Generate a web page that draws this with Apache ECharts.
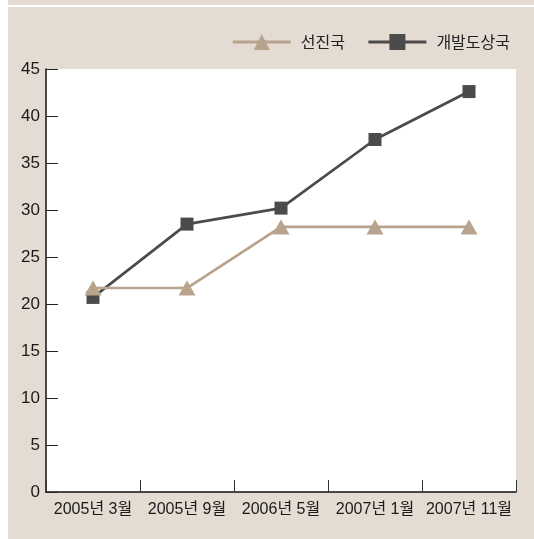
<!DOCTYPE html>
<html>
<head>
<meta charset="utf-8">
<script src="https://cdn.jsdelivr.net/npm/echarts@6/dist/echarts.min.js"></script>
<style>
html,body{margin:0;padding:0;background:#ffffff;}
#bg{position:absolute;left:8px;top:0;width:526px;height:539px;background:#e4dbd2;}
#strip{position:absolute;left:8px;top:5px;width:526px;height:2px;background:#ffffff;}
#chart{position:absolute;left:0;top:0;width:534px;height:539px;}
</style>
</head>
<body>
<div id="bg"></div>
<div id="strip"></div>
<div id="chart"></div>
<script>
const categories = ['2005년 3월', '2005년 9월', '2006년 5월', '2007년 1월', '2007년 11월'];
const advanced = [21.7, 21.7, 28.2, 28.2, 28.2];
const developing = [20.7, 28.5, 30.2, 37.5, 42.6];
const seriesNames = ['선진국', '개발도상국'];
const yTicks = { min: 0, max: 45, interval: 5 };

const font = '"Liberation Sans", Arial, "Noto Sans CJK KR", sans-serif';
const chart = echarts.init(document.getElementById('chart'), null, { renderer: 'canvas' });
chart.setOption({
  backgroundColor: 'transparent',
  animation: false,
  legend: {
    data: seriesNames,
    right: 19,
    top: 29,
    itemWidth: 58,
    itemHeight: 20,
    itemGap: 22,
    lineStyle: { width: 3 },
    textStyle: { fontSize: 16, color: '#222', fontFamily: '"Noto Sans CJK KR", sans-serif', padding: [0, 0, 0, 5] }
  },
  grid: {
    left: 46, right: 18, top: 69, bottom: 47,
    show: true, backgroundColor: '#ffffff', borderWidth: 0
  },
  xAxis: {
    type: 'category',
    data: categories,
    boundaryGap: true,
    axisLine: { lineStyle: { color: '#111', width: 1.5 } },
    axisTick: { show: true, inside: true, length: 12, lineStyle: { color: '#333', width: 1 } },
    axisLabel: { fontSize: 16, color: '#1a1a1a', margin: 10, fontFamily: font, interval: 0 },
    splitLine: { show: false }
  },
  yAxis: {
    type: 'value',
    min: yTicks.min, max: yTicks.max, interval: yTicks.interval,
    axisLine: { show: true, lineStyle: { color: '#111', width: 1.5 } },
    axisTick: { show: true, inside: true, length: 12, lineStyle: { color: '#222', width: 1 } },
    axisLabel: { fontSize: 17, color: '#1a1a1a', margin: 6, fontFamily: font },
    splitLine: { show: false }
  },
  series: [
    {
      name: seriesNames[1], type: 'line', data: developing,
      symbol: 'rect', symbolSize: 13, z: 2,
      itemStyle: { color: '#4b4b4b' },
      lineStyle: { color: '#4b4b4b', width: 2.7 }
    },
    {
      name: seriesNames[0], type: 'line', data: advanced,
      symbol: 'triangle', symbolSize: [17, 15], z: 3,
      itemStyle: { color: '#b8a38c' },
      lineStyle: { color: '#b8a38c', width: 2.7 }
    }
  ]
});
</script>
</body>
</html>
